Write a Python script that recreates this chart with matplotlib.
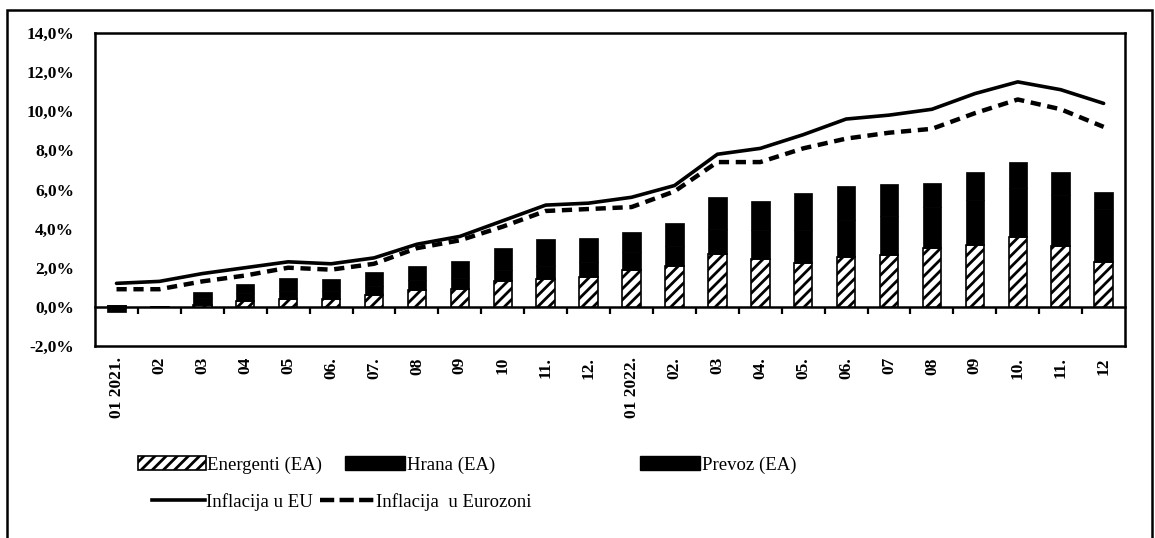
import numpy as np
import matplotlib
matplotlib.use("Agg")
import matplotlib.pyplot as plt
from matplotlib.patches import Patch, Rectangle
from matplotlib.lines import Line2D

plt.rcParams['font.family'] = ['Liberation Serif', 'DejaVu Serif']
plt.rcParams['hatch.linewidth'] = 2.0

months = ["01 2021.", "02", "03", "04", "05", "06.", "07.", "08", "09", "10", "11.", "12.",
          "01 2022.", "02.", "03", "04.", "05.", "06.", "07", "08", "09", "10.", "11.", "12"]

# doprinosi (EA), procentni poeni
energenti = [0.0, 0.0, 0.1, 0.3, 0.4, 0.4, 0.6, 0.85, 0.9, 1.3, 1.4, 1.5,
             1.9, 2.1, 2.7, 2.45, 2.25, 2.55, 2.65, 3.0, 3.15, 3.55, 3.1, 2.3]
hrana = [0.1, 0.05, 0.35, 0.4, 0.4, 0.4, 0.45, 0.5, 0.55, 0.6, 0.7, 0.8,
         0.9, 1.0, 1.3, 1.5, 1.7, 1.9, 2.0, 2.1, 2.3, 2.5, 2.6, 2.7]
prevoz = [-0.35, 0.0, 0.3, 0.45, 0.65, 0.6, 0.75, 0.75, 0.9, 1.1, 1.35, 1.2,
          1.0, 1.2, 1.6, 1.45, 1.85, 1.75, 1.65, 1.25, 1.45, 1.35, 1.2, 0.85]

infl_eu = [1.2, 1.3, 1.7, 2.0, 2.3, 2.2, 2.5, 3.2, 3.6, 4.4, 5.2, 5.3,
           5.6, 6.2, 7.8, 8.1, 8.8, 9.6, 9.8, 10.1, 10.9, 11.5, 11.1, 10.4]
infl_ez = [0.9, 0.9, 1.3, 1.6, 2.0, 1.9, 2.2, 3.0, 3.4, 4.1, 4.9, 5.0,
           5.1, 5.9, 7.4, 7.4, 8.1, 8.6, 8.9, 9.1, 9.9, 10.6, 10.1, 9.2]

x = np.arange(len(months))
e = np.array(energenti)
h = np.array(hrana)

fig = plt.figure(figsize=(11.55, 5.38), dpi=100)
ax = fig.add_axes([0.0823, 0.357, 0.8918, 0.5817])

w = 0.43
ax.bar(x, energenti, w, color='white', edgecolor='black', hatch='///', lw=1.2, zorder=2)
ax.bar(x, hrana, w, bottom=e, color='black', edgecolor='black', lw=0.5, zorder=2)
ax.bar(x, prevoz, w, bottom=e + h, color='black', edgecolor='black', lw=0.5, zorder=2)

ax.plot(x, infl_eu, color='black', lw=2.6, solid_joinstyle='round', solid_capstyle='round', zorder=3)
ax.plot(x, infl_ez, color='black', lw=3.2, linestyle=(0, (2.3, 1.5)), zorder=3)

ymin, ymax = -2, 14
ax.set_xlim(-0.5, len(months) - 0.5)
ax.set_ylim(ymin, ymax)
ax.set_yticks(np.arange(-2, 15, 2))
ax.set_yticklabels([f"{v:.1f}%".replace('.', ',') for v in np.arange(-2, 15, 2)],
                   fontweight='bold')
ax.tick_params(axis='y', length=0, pad=15, labelsize=12.5)
ax.set_xticks(x)
ax.set_xticklabels(months, rotation=90, va='top', ha='center', fontweight='bold')
ax.tick_params(axis='x', length=0, pad=8, labelsize=12.5)
for s in ax.spines.values():
    s.set_linewidth(1.8)

# nulta linija sa podeocima izmedju meseci
zero = ax.secondary_xaxis((0 - ymin) / (ymax - ymin))
zero.set_xticks(np.arange(0.5, len(months) - 0.5, 1))
zero.set_xticklabels([])
zero.tick_params(length=5, width=1.6, direction='out')
zero.spines['bottom'].set_linewidth(1.8)

# legenda
leg_font = 13.5
def add_entry(handle, label, xpx, ypx, hl):
    lg = fig.legend([handle], [label], loc='center left',
                    bbox_to_anchor=(xpx / 1155, 1 - ypx / 538),
                    frameon=False, fontsize=leg_font, handlelength=hl,
                    handleheight=0.7, handletextpad=0.1, borderpad=0, borderaxespad=0)
    return lg

add_entry(Patch(facecolor='white', edgecolor='black', hatch='///', lw=1.2), "Energenti (EA)", 138, 465, 3.6)
add_entry(Patch(facecolor='black', edgecolor='black'), "Hrana (EA)", 345, 465, 3.2)
add_entry(Patch(facecolor='black', edgecolor='black'), "Prevoz (EA)", 640, 465, 3.2)
add_entry(Line2D([], [], color='black', lw=2.6), "Inflacija u EU", 152, 502, 2.8)
add_entry(Line2D([], [], color='black', lw=3.2, linestyle=(0, (3.2, 1.2))), "Inflacija  u Eurozoni", 320, 502, 2.9)

# okvir slike
fig.patches.append(Rectangle((7 / 1155, -0.05), 1145 / 1155, 1.05 - 10 / 538,
                             transform=fig.transFigure, fill=False, lw=1.8, edgecolor='black'))

fig.savefig("out.png", dpi=100)
